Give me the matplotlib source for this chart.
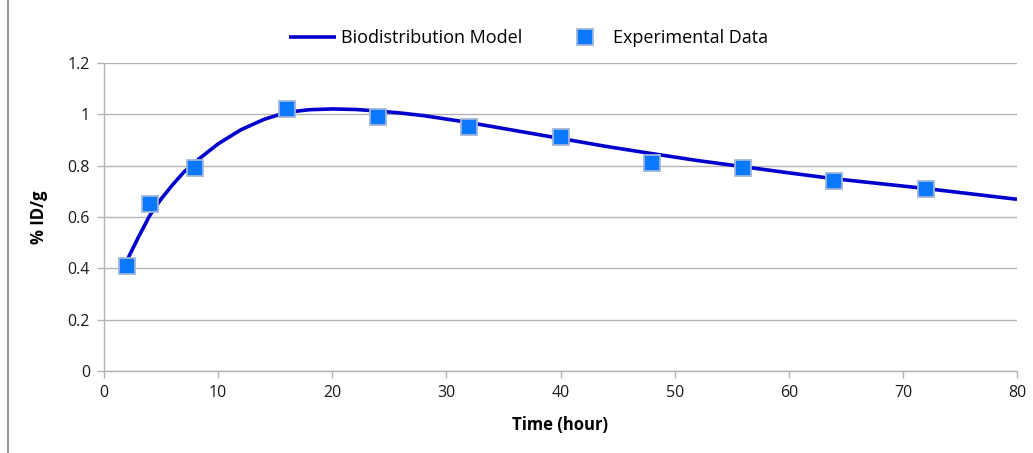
import matplotlib

matplotlib.use("Agg")
import matplotlib.pyplot as plt  # noqa: E402
from matplotlib.lines import Line2D  # noqa: E402

plt.rcParams["font.family"] = ["Open Sans", "DejaVu Sans"]

# model curve
model_t = [2, 3, 4, 5, 6, 7, 8, 10, 12, 14, 16, 18, 20, 22, 24, 26, 28,
           32, 36, 40, 44, 48, 52, 56, 60, 64, 68, 72, 76, 80]
model_id = [0.43, 0.52, 0.605, 0.67, 0.725, 0.775, 0.815, 0.885, 0.94, 0.98,
            1.008, 1.018, 1.021, 1.019, 1.013, 1.005, 0.995, 0.968, 0.937,
            0.906, 0.875, 0.847, 0.82, 0.796, 0.772, 0.749, 0.73, 0.711,
            0.69, 0.669]

# experimental points
exp_t = [2, 4, 8, 16, 24, 32, 40, 48, 56, 64, 72]
exp_id = [0.41, 0.65, 0.79, 1.02, 0.99, 0.95, 0.91, 0.81, 0.79, 0.74, 0.71]

x_ticks = [0, 10, 20, 30, 40, 50, 60, 70, 80]
y_ticks = [0, 0.2, 0.4, 0.6, 0.8, 1, 1.2]
y_labels = ["0", "0.2", "0.4", "0.6", "0.8", "1", "1.2"]

W, H = 1033, 453
fig = plt.figure(figsize=(W / 100, H / 100), dpi=100)
ax = fig.add_axes([104 / W, 1 - 371 / H, (1017 - 104) / W, (371 - 63) / H])

grid_col = "#b3b3b3"
ax.plot(model_t, model_id, color="#0000cc", lw=2.6, solid_capstyle="butt",
        label="Biodistribution Model", zorder=3)
ax.plot(exp_t, exp_id, ls="none", marker="s", ms=11, mfc="#0a78ff",
        mec="#9fb6d8", mew=1.3, label="Experimental Data", zorder=4)

ax.set_xlim(0, 80)
ax.set_ylim(0, 1.2)
ax.set_xticks(x_ticks)
ax.set_yticks(y_ticks)
ax.set_yticklabels(y_labels)
ax.yaxis.grid(True, color=grid_col, lw=1)
ax.set_axisbelow(True)
for side in ("top", "right"):
    ax.spines[side].set_visible(False)
for side in ("left", "bottom"):
    ax.spines[side].set_color(grid_col)
    ax.spines[side].set_linewidth(1)
ax.tick_params(axis="both", direction="out", length=5, width=1,
               color=grid_col, labelsize=11.5, labelcolor="#1a1a1a", pad=5)

ax.set_xlabel("Time (hour)", fontsize=12, fontweight="bold", labelpad=11)
ax.set_ylabel("% ID/g", fontsize=12, fontweight="bold", labelpad=14)

fig.legend(loc="center", bbox_to_anchor=(529 / W, 1 - 38 / H), ncol=2,
           frameon=False, fontsize=13, handlelength=2.6, handletextpad=0.25,
           columnspacing=2.2, borderaxespad=0)

# chart-area border on the left
fig.add_artist(Line2D([7.5 / W, 7.5 / W], [0, 1], color="#999999", lw=1.5,
                      transform=fig.transFigure))

fig.savefig("out.png", dpi=100)
